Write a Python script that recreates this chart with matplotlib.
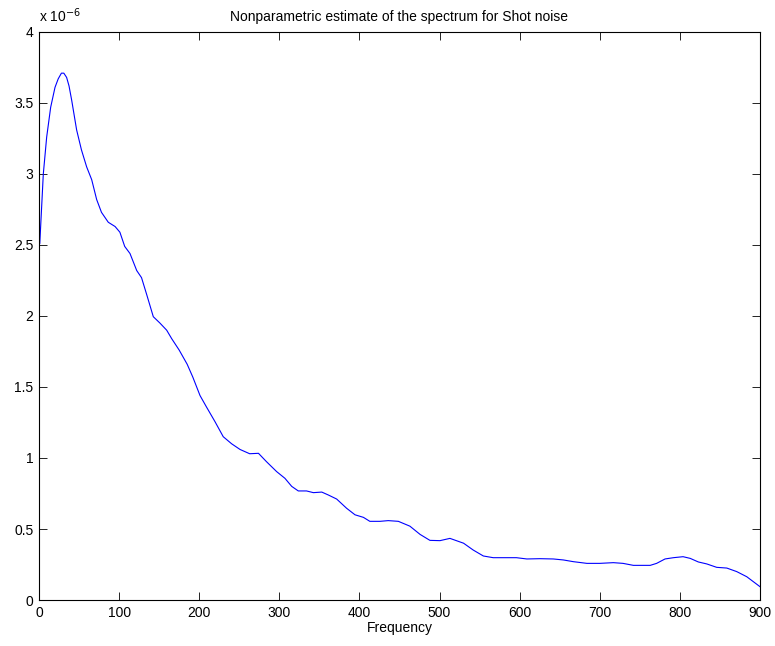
import matplotlib
matplotlib.use('Agg')
import matplotlib.pyplot as plt
from matplotlib.ticker import FuncFormatter
import numpy as np

plt.rcParams['font.family'] = ['Liberation Sans', 'DejaVu Sans']

# spectrum estimate, power in units of 1e-6
freq = [0, 1, 5.4, 9.6, 14.6, 20, 24, 28, 31, 34.5, 37.5, 40.8, 47, 53, 59.5,
        65.8, 72, 78, 86.5, 95, 101, 107, 113.6, 122, 128, 134.5, 142.7, 151,
        159.4, 165.7, 175, 185, 192, 201, 209, 219.7, 230, 240.5, 251, 263, 274,
        284, 296.7, 307, 315.5, 323.7, 334, 342.5, 353, 361, 371.6, 384, 394.5,
        405, 413, 425.7, 436, 448.6, 463, 475.7, 488, 500.6, 513, 530, 542,
        554.7, 567, 580, 596, 609, 625.5, 642, 654.6, 667, 684, 700, 717, 729,
        742, 763, 771, 781.5, 792, 804, 813, 823, 833.6, 846, 858.6, 871, 883.5,
        900]
power = [2.5, 2.51, 3.0, 3.26, 3.47, 3.61, 3.67, 3.71, 3.71, 3.68, 3.62, 3.52,
         3.31, 3.17, 3.05, 2.96, 2.82, 2.73, 2.66, 2.63, 2.59, 2.49, 2.44, 2.32,
         2.27, 2.15, 1.995, 1.95, 1.90, 1.84, 1.76, 1.66, 1.57, 1.44, 1.36,
         1.256, 1.15, 1.10, 1.06, 1.03, 1.033, 0.974, 0.904, 0.857, 0.80, 0.768,
         0.768, 0.756, 0.76, 0.74, 0.711, 0.646, 0.60, 0.582, 0.554, 0.554,
         0.559, 0.554, 0.52, 0.462, 0.42, 0.418, 0.434, 0.40, 0.352, 0.31,
         0.298, 0.298, 0.298, 0.289, 0.291, 0.289, 0.282, 0.27, 0.258, 0.258,
         0.263, 0.258, 0.244, 0.244, 0.258, 0.289, 0.298, 0.305, 0.293, 0.268,
         0.254, 0.23, 0.225, 0.20, 0.164, 0.094]

fig = plt.figure(figsize=(7.75, 6.46), dpi=100)
ax = fig.add_axes([0.0503, 0.0712, 0.9303, 0.8793])

ax.plot(freq, np.array(power) * 1e-6, color=(0, 0, 1), linewidth=0.8)

ax.set_xlim(0, 900)
ax.set_ylim(0, 4e-6)
ax.set_xticks(np.arange(0, 901, 100))
ax.set_yticks(np.arange(0, 4.01, 0.5) * 1e-6)
ax.yaxis.set_major_formatter(FuncFormatter(lambda v, p: '%g' % round(v * 1e6, 3)))
ax.tick_params(direction='in', length=6, width=0.6, top=True, right=True,
               labelsize=10, pad=4)
for s in ax.spines.values():
    s.set_linewidth(0.8)

ax.set_xlabel('Frequency', fontsize=10, labelpad=1)
ax.set_title('Nonparametric estimate of the spectrum for Shot noise', fontsize=10, pad=8)
ax.text(0.0, 1.012, r'x 10$^{-6}$', transform=ax.transAxes, fontsize=10,
        ha='left', va='bottom')

fig.savefig('out.png', dpi=100)
